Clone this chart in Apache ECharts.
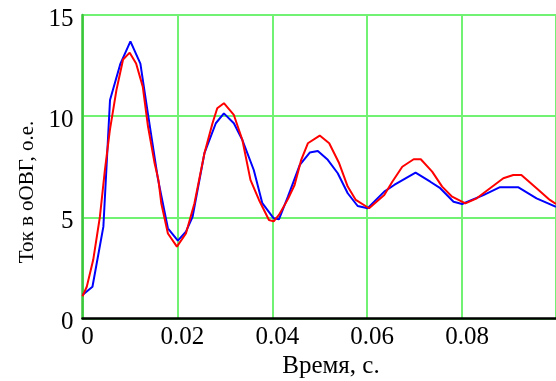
<!DOCTYPE html>
<html>
<head>
<meta charset="utf-8">
<script src="https://cdn.jsdelivr.net/npm/echarts@6/dist/echarts.min.js"></script>
<style>
html,body{margin:0;padding:0;background:#fff;}
#chart{width:556px;height:381px;}
</style>
</head>
<body>
<div id="chart"></div>
<script>
// Blue curve (time, s ; current, p.u.)
const timeBlue = [0, 0.0021, 0.0044, 0.0058, 0.008, 0.0101, 0.0122, 0.0138, 0.0159, 0.018, 0.0201, 0.0218, 0.0232, 0.0257, 0.0281, 0.0298, 0.0319, 0.0337, 0.0361, 0.0379, 0.0403, 0.0414, 0.0433, 0.0458, 0.0479, 0.0496, 0.0517, 0.0538, 0.0559, 0.058, 0.0601, 0.0636, 0.0657, 0.0702, 0.0733, 0.0754, 0.0782, 0.08, 0.0845, 0.088, 0.0918, 0.0957, 0.0998];
const currentBlue = [1.16, 1.57, 4.54, 10.8, 12.6, 13.7, 12.6, 10.1, 6.9, 4.46, 3.85, 4.29, 5.03, 8.17, 9.65, 10.14, 9.65, 8.82, 7.34, 5.7, 4.95, 4.9, 6.02, 7.59, 8.2, 8.28, 7.84, 7.18, 6.19, 5.56, 5.45, 6.27, 6.6, 7.21, 6.76, 6.44, 5.77, 5.66, 6.1, 6.49, 6.49, 5.94, 5.52];
// Red curve
const timeRed = [0, 0.0009, 0.00226, 0.00367, 0.0047, 0.00576, 0.00716, 0.00855, 0.00995, 0.0113, 0.0127, 0.0138, 0.0152, 0.016, 0.0166, 0.018, 0.0199, 0.0218, 0.0236, 0.0257, 0.0274, 0.0284, 0.0298, 0.0319, 0.0337, 0.0354, 0.0372, 0.0393, 0.0403, 0.0414, 0.0433, 0.0447, 0.0461, 0.0475, 0.05, 0.052, 0.0541, 0.0559, 0.0576, 0.0604, 0.0636, 0.0653, 0.0674, 0.0698, 0.0713, 0.0737, 0.0758, 0.0779, 0.0807, 0.0831, 0.0859, 0.0887, 0.0908, 0.0925, 0.0957, 0.0985, 0.0998];
const currentRed = [1.1, 1.57, 2.9, 5.03, 7.3, 9.3, 11.3, 12.8, 13.14, 12.6, 11.46, 9.5, 7.67, 6.85, 5.7, 4.2, 3.55, 4.2, 5.7, 8.17, 9.65, 10.39, 10.64, 10.06, 8.82, 6.85, 5.86, 4.87, 4.8, 5.12, 5.9, 6.6, 7.84, 8.66, 9.04, 8.66, 7.67, 6.52, 5.86, 5.45, 6.1, 6.76, 7.5, 7.87, 7.87, 7.26, 6.52, 6.02, 5.69, 5.94, 6.44, 6.93, 7.09, 7.09, 6.44, 5.86, 5.66];
// Axis ticks
const xTicks = [0, 0.02, 0.04, 0.06, 0.08];
const yTicks = [0, 5, 10, 15];
const xTitle = 'Время, с.';
const yTitle = 'Ток в оОВГ, о.е.';

const pair = (ts, vs) => ts.map((t, i) => [t, vs[i]]);
const FONT = '"Liberation Serif", "Times New Roman", serif';
const GRID_GREEN = '#72f272';

const chart = echarts.init(document.getElementById('chart'), null, {renderer: 'canvas'});
chart.setOption({
  animation: false,
  backgroundColor: '#fff',
  grid: {left: 82.5, top: 15, right: -3, bottom: 62.5, containLabel: false},
  xAxis: {
    type: 'value', min: 0, max: 0.0998, interval: 0.02,
    axisLine: {show: true, onZero: false, lineStyle: {color: '#000', width: 2.5}},
    axisTick: {show: false},
    axisLabel: {
      color: '#000', margin: 6, showMaxLabel: false,
      rich: {a: {fontFamily: FONT, fontSize: 25, color: '#000', padding: [0, 0, 0, 10]}},
      formatter: v => {
        const k = xTicks.findIndex(t => Math.abs(t - v) < 1e-9);
        return k < 0 ? '' : '{a|' + String(xTicks[k]) + '}';
      }
    },
    splitLine: {show: true, lineStyle: {color: GRID_GREEN, width: 2}}
  },
  yAxis: {
    type: 'value', min: 0, max: 15, interval: 5,
    axisLine: {show: true, lineStyle: {color: '#3cc43c', width: 2.5}},
    axisTick: {show: false},
    axisLabel: {
      color: '#000', margin: 9,
      rich: {a: {fontFamily: FONT, fontSize: 25, color: '#000', padding: [8, 0, 0, 0]}},
      formatter: v => yTicks.includes(v) ? '{a|' + v + '}' : ''
    },
    splitLine: {show: true, lineStyle: {color: GRID_GREEN, width: 2}}
  },
  graphic: [
    {type: 'text', x: 331, y: 366, style: {text: xTitle, font: '25px ' + FONT, fill: '#000', textAlign: 'center', textVerticalAlign: 'middle'}},
    {type: 'text', x: 27, y: 192, rotation: Math.PI / 2, style: {text: yTitle, font: '21px ' + FONT, fill: '#000', textAlign: 'center', textVerticalAlign: 'middle'}}
  ],
  series: [
    {type: 'line', data: pair(timeBlue, currentBlue), showSymbol: false, lineStyle: {color: '#0000ff', width: 2}, itemStyle: {color: '#0000ff'}, z: 3},
    {type: 'line', data: pair(timeRed, currentRed), showSymbol: false, lineStyle: {color: '#ff0000', width: 2}, itemStyle: {color: '#ff0000'}, z: 4}
  ]
});
</script>
</body>
</html>
